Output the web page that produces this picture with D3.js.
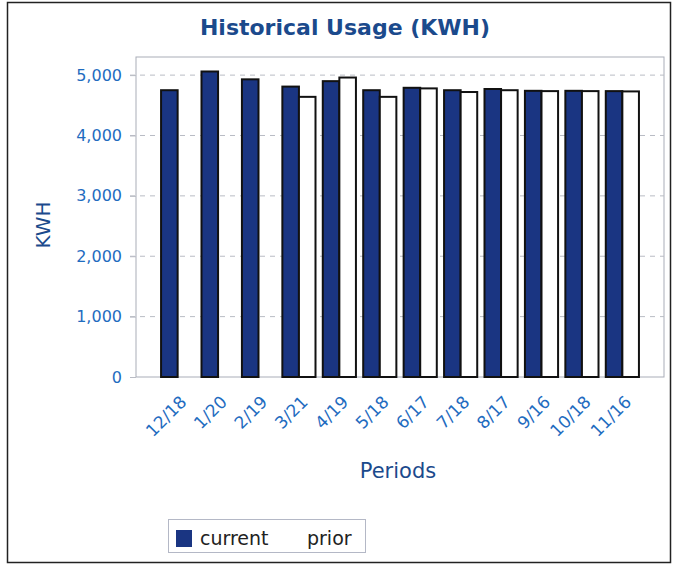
<!DOCTYPE html>
<html>
<head>
<meta charset="utf-8">
<script src="https://cdn.jsdelivr.net/npm/d3@7"></script>
<style>
  body { margin: 0; background: #fff; }
  svg { display: block; }
</style>
</head>
<body>
<div class="chart"></div>
<script>
// datos
var periods = ["12/18", "1/20", "2/19", "3/21", "4/19", "5/18", "6/17", "7/18", "8/17", "9/16", "10/18", "11/16"];
var current = [4750, 5060, 4930, 4810, 4900, 4750, 4790, 4750, 4770, 4740, 4740, 4735];
var prior   = [0, 0, 0, 4640, 4960, 4640, 4780, 4720, 4750, 4735, 4735, 4730];
var series = ["current", "prior"];
var yTicks = [0, 1000, 2000, 3000, 4000, 5000];

var width = 673;
var height = 565;
var plot = {left: 136, right: 664, top: 57, bottom: 377};

var svg = d3.select("div.chart")
    .append("svg")
    .attr("width", width)
    .attr("height", height);

// marco exterior
svg.append("rect")
    .attr("x", 7.5).attr("y", 2.5)
    .attr("width", 663).attr("height", 560)
    .attr("fill", "white")
    .attr("stroke", "#222")
    .attr("stroke-width", 1.5);

var x = d3.scaleBand()
    .domain(periods)
    .range([plot.left, plot.right])
    .paddingInner(0.18)
    .paddingOuter(0.62);

var xSub = d3.scaleBand()
    .domain(series)
    .range([0, x.bandwidth()]);

var y = d3.scaleLinear()
    .domain([0, 5300])
    .range([plot.bottom, plot.top]);

// titulo
svg.append("text")
    .attr("x", 345)
    .attr("y", 35)
    .attr("text-anchor", "middle")
    .attr("font-family", "DejaVu Sans")
    .attr("font-weight", "bold")
    .attr("font-size", 22)
    .attr("fill", "#1b4a8c")
    .text("Historical Usage (KWH)");

// fondo del area de dibujo
svg.append("rect")
    .attr("x", plot.left).attr("y", plot.top)
    .attr("width", plot.right - plot.left)
    .attr("height", plot.bottom - plot.top)
    .attr("fill", "white")
    .attr("stroke", "#a9adb8")
    .attr("stroke-width", 1);

// rejilla
svg.append("g")
    .selectAll("line")
    .data(yTicks.filter(d => d > 0))
    .enter()
    .append("line")
    .attr("x1", plot.left - 6)
    .attr("x2", plot.right)
    .attr("y1", d => y(d))
    .attr("y2", d => y(d))
    .attr("stroke", "#b9bcc4")
    .attr("stroke-dasharray", "5,5");

// eje y
var yAxis = svg.append("g")
    .attr("transform", "translate(" + plot.left + ",0)")
    .call(d3.axisLeft(y).tickValues(yTicks).tickSize(6).tickPadding(8).tickFormat(d3.format(",")));
yAxis.select(".domain").remove();
yAxis.selectAll("line").attr("stroke", "#b9bcc4");
yAxis.selectAll("text")
    .attr("font-family", "DejaVu Sans")
    .attr("font-size", 16)
    .attr("fill", "#1f6cbf");

svg.append("text")
    .attr("transform", "translate(50,225) rotate(-90)")
    .attr("text-anchor", "middle")
    .attr("font-family", "DejaVu Sans")
    .attr("font-size", 20)
    .attr("fill", "#1b4a8c")
    .text("KWH");

// barras
var groups = svg.append("g")
    .selectAll("g")
    .data(periods)
    .enter()
    .append("g")
    .attr("transform", d => "translate(" + x(d) + ",0)");

groups.selectAll("rect")
    .data((d, i) => [{key: "current", value: current[i]}, {key: "prior", value: prior[i]}])
    .enter()
    .append("rect")
    .attr("x", d => xSub(d.key))
    .attr("y", d => y(d.value))
    .attr("width", xSub.bandwidth())
    .attr("height", d => y(0) - y(d.value))
    .attr("fill", d => d.key == "current" ? "#1a3582" : "white")
    .attr("stroke", "#111")
    .attr("stroke-width", 2);

// eje x
var xAxis = svg.append("g")
    .attr("transform", "translate(0," + plot.bottom + ")")
    .call(d3.axisBottom(x).tickSize(0).tickPadding(0));
xAxis.select(".domain").remove();
xAxis.selectAll("text")
    .attr("font-family", "DejaVu Sans")
    .attr("font-size", 17)
    .attr("fill", "#1f6cbf")
    .attr("text-anchor", "end")
    .attr("dy", "0")
    .attr("transform", "translate(10,26) rotate(-45)");

svg.append("text")
    .attr("x", 398)
    .attr("y", 478)
    .attr("text-anchor", "middle")
    .attr("font-family", "DejaVu Sans")
    .attr("font-size", 21)
    .attr("fill", "#1b4a8c")
    .text("Periods");

// leyenda
var legend = svg.append("g");
legend.append("rect")
    .attr("x", 168.5).attr("y", 519.5)
    .attr("width", 197).attr("height", 33)
    .attr("fill", "white")
    .attr("stroke", "#b4b8c6");
legend.append("rect")
    .attr("x", 176).attr("y", 530)
    .attr("width", 16).attr("height", 17)
    .attr("fill", "#1a3582");
legend.append("text")
    .attr("x", 200).attr("y", 545)
    .attr("font-family", "DejaVu Sans")
    .attr("font-size", 19)
    .attr("fill", "#222")
    .text(series[0]);
legend.append("text")
    .attr("x", 307).attr("y", 545)
    .attr("font-family", "DejaVu Sans")
    .attr("font-size", 19)
    .attr("fill", "#222")
    .text(series[1]);
</script>
</body>
</html>
